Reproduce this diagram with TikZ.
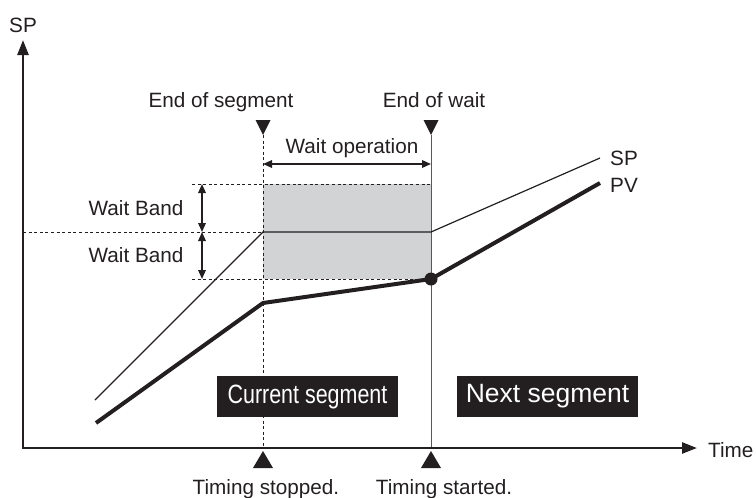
\documentclass[tikz,border=0pt]{standalone}
\usepackage{fontspec}
\setmainfont{Liberation Sans}
\usepackage{graphicx}
\usetikzlibrary{arrows.meta}
\definecolor{ink}{HTML}{231F20}
\definecolor{band}{HTML}{D2D3D5}
\begin{document}
\begin{tikzpicture}[x=1pt,y=-1pt,
  lbl/.style={font=\fontsize{20.7}{24}\selectfont, inner sep=0pt, anchor=base, text=ink},
  dashln/.style={draw=ink, line width=0.9pt, dash pattern=on 3pt off 2.6pt},
  spln/.style={draw=ink, line width=1.2pt},
  pvln/.style={draw=ink, line width=4pt, line join=miter},
  axisln/.style={draw=ink, line width=2.5pt, {Triangle[length=15pt,width=11pt]}-{Triangle[length=15pt,width=11pt]}},
  dblarr/.style={draw=ink, line width=1.6pt, {Triangle[length=9pt,width=7.5pt]}-{Triangle[length=9pt,width=7.5pt]}},
  segbox/.style={fill=ink, text=white, minimum height=41pt, minimum width=181pt, inner sep=0pt, font=\fontsize{26.5}{30}\selectfont},
  trimark/.style={fill=ink}
]
\useasboundingbox (0,0) rectangle (756,498);

% coordinates
\coordinate (O) at (23,448);
\coordinate (ytip) at (23,40);
\coordinate (xtip) at (697,448);
\coordinate (bandTopL) at (192,184);
\coordinate (bandTopR) at (431,184);
\coordinate (midL) at (23,232);
\coordinate (bandBotL) at (192,279);
\coordinate (bandBotR) at (431,279);
\coordinate (sp0) at (95,400);
\coordinate (sp1) at (263,232);
\coordinate (sp2) at (431,232);
\coordinate (sp3) at (600,158);
\coordinate (pv0) at (96,423);
\coordinate (pv1) at (263,303);
\coordinate (pv3) at (600,183);
\coordinate (v1top) at (263,135);
\coordinate (v1bot) at (263,448);
\coordinate (v2top) at (431,135);
\coordinate (v2bot) at (431,448);
\coordinate (wb1a) at (202,184);
\coordinate (wb1b) at (202,232);
\coordinate (wb2b) at (202,279);
\coordinate (woL) at (263,164);
\coordinate (woR) at (431,164);

% gray wait band
\fill[band] (263,184) rectangle (431,279);

% dashed guides
\draw[dashln] (bandTopL) -- (bandTopR);
\draw[dashln] (midL) -- (sp1);
\draw[dashln] (bandBotL) -- (bandBotR);
\draw[dashln] (v1top) -- (v1bot);

% end-of-wait line
\draw[draw=ink!75, line width=0.9pt] (v2top) -- (v2bot);

% SP and PV
\draw[spln] (sp0) -- (sp1) -- (sp2) -- (sp3);
\draw[pvln] (pv0) -- (pv1) -- (bandBotR) -- (pv3);
\node[circle, fill=ink, minimum size=13pt, inner sep=0pt] (dot) at (bandBotR) {};

% arrows
\draw[dblarr] (woL) -- (woR);
\draw[dblarr] (wb1a) -- (wb1b);
\draw[dblarr] (wb1b) -- (wb2b);

% segment boxes
\node[segbox] (cur) at (307.5,396.5) {\scalebox{0.81}[1]{Current segment}};
\node[segbox] (nxt) at (547.5,396.5) {Next segment};

% axes
\draw[axisln] (ytip) -- (O) -- (xtip);

% triangle markers
\fill[trimark] (255.5,120) -- (270.5,120) -- (263,135) -- cycle;
\fill[trimark] (423.5,120) -- (438.5,120) -- (431,135) -- cycle;
\fill[trimark] (253,468) -- (273,468) -- (263,451) -- cycle;
\fill[trimark] (421,468) -- (441,468) -- (431,451) -- cycle;

% labels
\node[lbl] (tsp) at (23,32) {SP};
\node[lbl] (teos) at (221,107) {End of segment};
\node[lbl] (teow) at (434,107) {End of wait};
\node[lbl] (two) at (352,153) {Wait operation};
\node[lbl] (twb1) at (136,215) {Wait Band};
\node[lbl] (twb2) at (136,262) {Wait Band};
\node[lbl, anchor=base west] (tspr) at (610,165) {SP};
\node[lbl, anchor=base west] (tpv) at (610,192) {PV};
\node[lbl, anchor=base west] (ttime) at (708,457) {Time};
\node[lbl] (tstop) at (266,494) {Timing stopped.};
\node[lbl] (tstart) at (444,494) {Timing started.};
\end{tikzpicture}
\end{document}
